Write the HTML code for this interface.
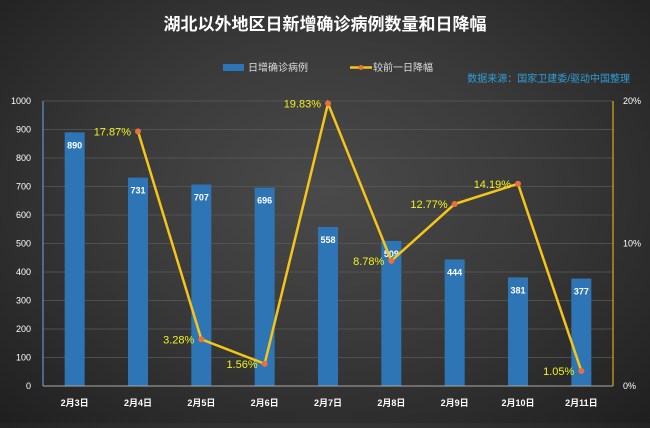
<!DOCTYPE html>
<html><head><meta charset="utf-8"><style>
html,body{margin:0;padding:0}
body{width:650px;height:423px;overflow:hidden;background:radial-gradient(ellipse at 50% 45%,#4a4a4a 0%,#3a3a3a 45%,#1f1f1f 100%);font-family:"Liberation Sans","Noto Sans CJK SC",sans-serif}
</style></head><body>
<svg id="chart" width="650" height="423" xmlns="http://www.w3.org/2000/svg" font-family="Liberation Sans, Noto Sans CJK SC, sans-serif">
<text x="325" y="30" text-anchor="middle" fill="#fff" font-size="17" font-weight="bold">湖北以外地区日新增确诊病例数量和日降幅</text>
<g>
<rect x="223" y="64" width="21" height="7" fill="#2e75b6"/>
<text x="248" y="71" fill="#ddd" font-size="10">日增确诊病例</text>
<line x1="350" y1="67.5" x2="372" y2="67.5" stroke="#f5c518" stroke-width="2.5"/>
<circle cx="361" cy="67.5" r="2.5" fill="#e8703a"/>
<text x="373" y="71" fill="#ddd" font-size="10">较前一日降幅</text>
</g>
<text x="630" y="82" text-anchor="end" fill="#2f9fd8" font-size="10">数据来源：国家卫建委/驱动中国整理</text>
<g id="grid"></g><g id="bars"></g><g id="line"></g><g id="axes"></g>
</svg>
<script>
const categories=["2月3日","2月4日","2月5日","2月6日","2月7日","2月8日","2月9日","2月10日","2月11日"];
const cases=[890,731,707,696,558,509,444,381,377];
const declines=[null,17.87,3.28,1.56,19.83,8.78,12.77,14.19,1.05];
const leftTicks=[0,100,200,300,400,500,600,700,800,900,1000];
const rightTicks=[0,10,20];
const X0=43,X1=613,Y0=386,Y1=101;
const NS="http://www.w3.org/2000/svg";
const bw=(X1-X0)/categories.length;
const xc=i=>X0+bw*(i+0.5);
const yl=v=>Y0-(v/1000)*(Y0-Y1);
const yr=v=>Y0-(v/20)*(Y0-Y1);
function mk(p,t,a){const e=document.createElementNS(NS,t);for(const k in a)e.setAttribute(k,a[k]);p.appendChild(e);return e;}
const grid=document.getElementById('grid'),bars=document.getElementById('bars'),line=document.getElementById('line'),axes=document.getElementById('axes');
leftTicks.forEach(v=>{
 if(v>0){const g=mk(grid,'line',{x1:X0,x2:X1,y1:yl(v),y2:yl(v),stroke:'#5a5a5a','stroke-width':0.7});
 
 }
 const t=mk(axes,'text',{x:X0-12,y:yl(v)+3,'text-anchor':'end',fill:'#fff','font-size':9});t.textContent=v;
 
 
});
rightTicks.forEach(v=>{
 const t=mk(axes,'text',{x:X1+10,y:yr(v)+3,fill:'#fff','font-size':9});t.textContent=v+'%';
 
 
});
let a=mk(axes,'line',{x1:X0,x2:X0,y1:Y0,y2:Y1,stroke:'#6fa8dc','stroke-width':1});


a=mk(axes,'line',{x1:X1,x2:X1,y1:Y0,y2:Y1,stroke:'#f5c518','stroke-width':1});


a=mk(axes,'line',{x1:X0,x2:X1,y1:Y0,y2:Y0,stroke:'#aaa','stroke-width':1});


categories.forEach((c,i)=>{
 const x=xc(i);
 const r=mk(bars,'rect',{x:x-10,y:yl(cases[i]),width:20,height:Y0-yl(cases[i]),fill:'#2e75b6'});
 
 
 const t=mk(bars,'text',{x:x,y:yl(cases[i])+16,'text-anchor':'middle',fill:'#fff','font-size':9,'font-weight':'bold'});t.textContent=cases[i];
 
 
 const l=mk(axes,'text',{x:x,y:Y0+20,'text-anchor':'middle',fill:'#fff','font-size':9,'font-weight':'bold'});l.textContent=c;
 
 
});
let pts=[];declines.forEach((v,i)=>{if(v!=null)pts.push([xc(i),yr(v),v]);});
const pl=mk(line,'polyline',{points:pts.map(p=>p[0]+','+p[1]).join(' '),fill:'none',stroke:'#f5c518','stroke-width':2.5});


pts.forEach(p=>{
 const c=mk(line,'circle',{cx:p[0],cy:p[1],r:3,fill:'#e8703a'});
 
 
 const t=mk(line,'text',{x:p[0]-7,y:p[1]+4,'text-anchor':'end',fill:'#f2f21a','font-size':11});t.textContent=p[2].toFixed(2)+'%';
 
 
});
</script>
</body></html>
